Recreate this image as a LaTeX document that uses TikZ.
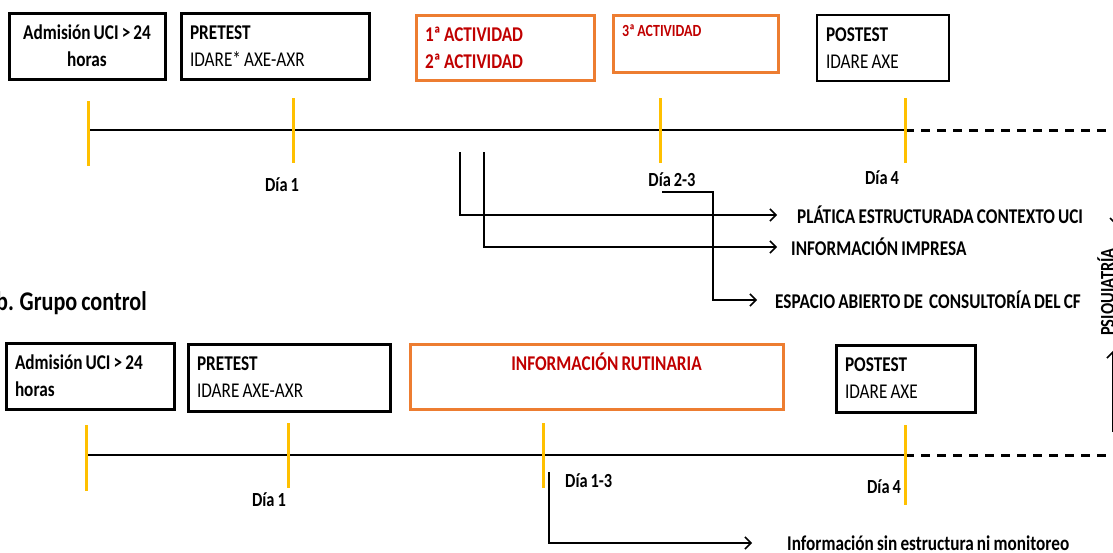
\documentclass[tikz,border=0pt]{standalone}
\usepackage{fontspec}
\setmainfont{Carlito}[FakeStretch=0.82, WordSpace=0.8]
\usetikzlibrary{arrows.meta, positioning, calc}

\definecolor{naranja}{HTML}{ED7D31}
\definecolor{rojo}{HTML}{C00000}
\definecolor{amarillo}{HTML}{FFC000}

\newcommand{\tam}[2]{\fontsize{#1}{#2}\selectfont}

\tikzset{
  caja/.style={draw, line width=3pt, inner xsep=9pt, inner ysep=0pt, align=flush left, font=\tam{21}{27}},
  cajanar/.style={caja, draw=naranja, text=rojo},
  marca/.style={draw=amarillo, line width=3pt},
  eje/.style={line width=2pt},
  ejepunt/.style={line width=3pt, dash pattern=on 9pt off 7pt},
  dia/.style={font=\tam{20}{24}\bfseries, inner sep=0pt},
  etiq/.style={font=\tam{21}{25}\bfseries, inner sep=0pt, anchor=west},
  flecha/.style={line width=1.5pt, -{Straight Barb[length=6pt,width=12pt]}}
}

\begin{document}
\begin{tikzpicture}[x=1pt, y=-1pt]
\useasboundingbox (0,0) rectangle (1113,552);

% Grupo experimental
\node[caja, align=flush center, text width=138pt, minimum height=66pt] (adm1) at (87,46) {\bfseries Admisión UCI > 24\\ horas};
\node[caja, text width=170pt, minimum height=66pt] (pre1) at (275,46) {\textbf{PRETEST}\\IDARE* AXE-AXR};
\node[cajanar, text width=160pt, minimum height=65pt] (act12) at (505,47.5) {\bfseries 1ª ACTIVIDAD\\2ª ACTIVIDAD};
\node[cajanar, font=\tam{17}{25}\bfseries, text width=147pt, minimum height=57pt] (act3) at (695.5,43.5) {3ª ACTIVIDAD\\\mbox{}};
\node[caja, line width=1.2pt, text width=114pt, minimum height=66pt] (post1) at (883,48) {\textbf{POSTEST}\\IDARE AXE};

\coordinate (a0) at (88,130);
\coordinate (a4) at (905,130);
\coordinate (afin) at (1120,130);
\draw[eje] (a0) -- (a4);
\draw[ejepunt] (a4) -- (afin);

\draw[marca] (88,101) -- (88,166);
\draw[marca] (293,98) -- (293,163);
\draw[marca] (660,98) -- (660,163);
\draw[marca] (905,98) -- (905,163);

\node[dia] (d1a) at (282,185) {Día 1};
\node[dia] (d23) at (672,180) {Día 2-3};
\node[dia] (d4a) at (882,178) {Día 4};

\node[etiq] (plat) at (797,215) {PLÁTICA ESTRUCTURADA CONTEXTO UCI};
\node[etiq] (imp) at (791,247) {INFORMACIÓN IMPRESA};
\node[etiq] (esp) at (775,300) {ESPACIO ABIERTO DE\ \ CONSULTORÍA DEL CF};

\coordinate (b1) at (460,152);
\coordinate (b2) at (484,152);
\coordinate (b3) at (662,192);
\draw[flecha, shorten >=20pt] (b1) |- (plat.west);
\draw[flecha, shorten >=14pt] (b2) |- (imp.west);
\draw[flecha, shorten >=18pt] (b3) -- (713,192) |- (esp.west);

% Grupo control
\node[font=\tam{27}{31}\bfseries, inner sep=0pt, anchor=west] (grupo) at (-4,303) {b. Grupo control};

\node[caja, text width=150pt, minimum height=66pt] (adm2) at (90,376) {\bfseries Admisión UCI > 24\\ horas};
\node[caja, text width=184pt, minimum height=67pt] (pre2) at (289,377.5) {\textbf{PRETEST}\\IDARE AXE-AXR};
\node[cajanar, font=\tam{21}{29}\bfseries, align=flush center, text width=355pt, minimum height=65pt] (rut) at (596.5,376.5) {\hspace*{20pt}INFORMACIÓN RUTINARIA\\\mbox{}};
\node[caja, text width=121pt, minimum height=67pt] (post2) at (905.5,378.5) {\textbf{POSTEST}\\IDARE AXE};

\coordinate (c0) at (86,455);
\coordinate (c4) at (905,455);
\coordinate (cfin) at (1120,455);
\draw[eje] (c0) -- (c4);
\draw[ejepunt] (c4) -- (cfin);

\draw[marca] (86,425) -- (86,491);
\draw[marca] (288,423) -- (288,488);
\draw[marca] (543,423) -- (543,488);
\draw[marca] (905,425) -- (905,505);

\node[dia] (d1b) at (269,500) {Día 1};
\node[dia, anchor=west] (d13) at (565,481) {Día 1-3};
\node[dia] (d4b) at (884,487) {Día 4};

\node[etiq] (sinest) at (787,543) {Información sin estructura ni monitoreo};
\coordinate (e1) at (549,472);
\draw[flecha, shorten >=35pt] (e1) |- (sinest.west);

% Psiquiatria (lado derecho)
\node[rotate=90, font=\tam{20}{24}\bfseries, inner sep=0pt] (psiq) at (1107,292) {PSIQUIATRÍA};
\coordinate (p1) at (1116,135);
\coordinate (p2) at (1113,432);
\draw[flecha, shorten >=23pt] (p1) -- (p1 |- psiq.east);
\draw[flecha, shorten >=15pt] (p2) -- (p2 |- psiq.west);
\end{tikzpicture}
\end{document}
